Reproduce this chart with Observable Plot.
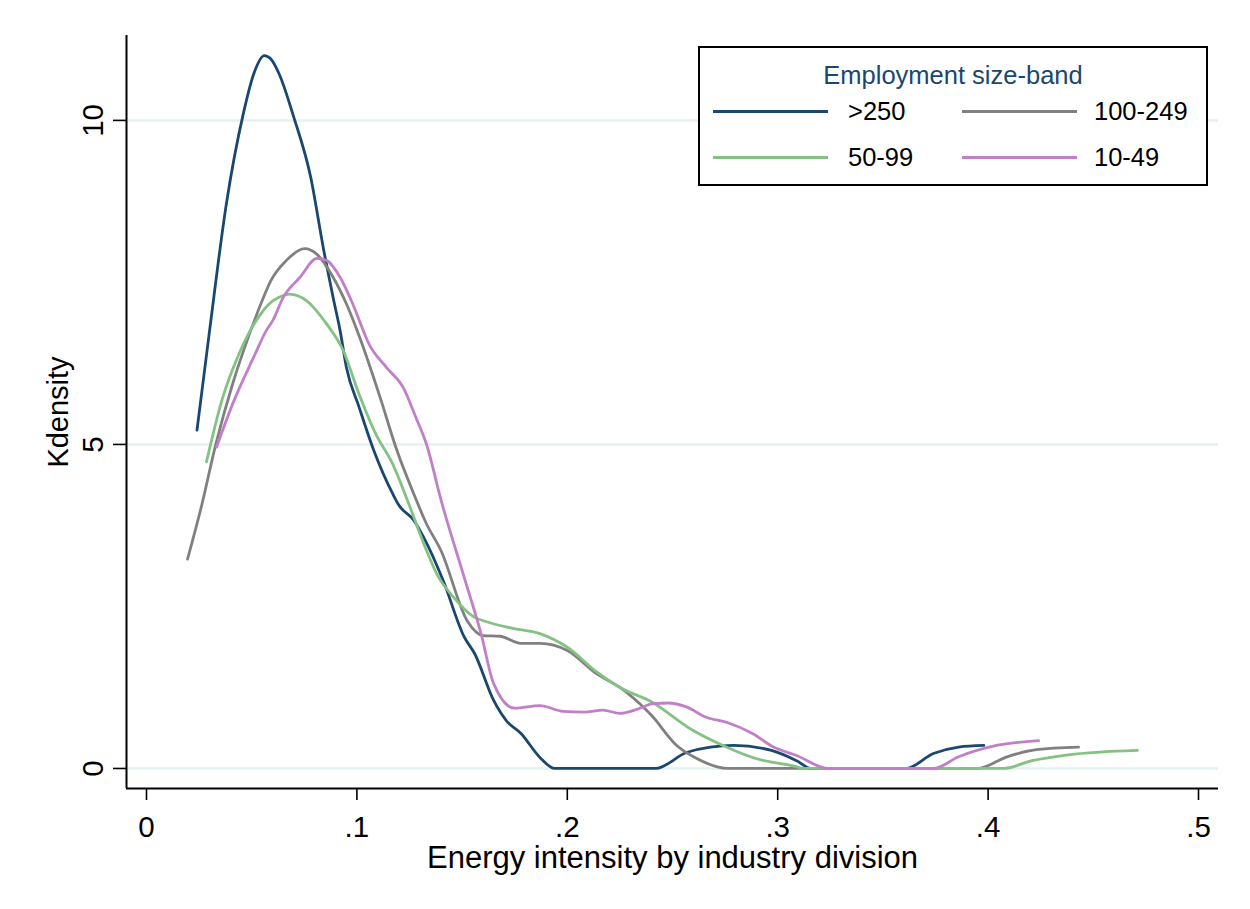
<!DOCTYPE html>
<html>
<head>
<meta charset="utf-8">
<script src="https://cdn.jsdelivr.net/npm/d3@7"></script>
<script src="https://cdn.jsdelivr.net/npm/@observablehq/plot@0.6"></script>
<style>
  html, body { margin: 0; padding: 0; background: #fff; }
  #wrap { position: relative; width: 1250px; height: 909px; font-family: "Liberation Sans", Arial, sans-serif; }
  #legend { position: absolute; left: 698px; top: 46px; width: 506px; height: 136px; border: 2px solid #000; background: #fff; box-sizing: content-box; }
  #legend .title { position: absolute; left: 0; right: 0; top: 13px; text-align: center; font-size: 25.5px; color: #1a476f; }
  #legend .item { position: absolute; font-size: 25.5px; color: #000; line-height: 26px; }
  #legend .sw { position: absolute; height: 3px; width: 115px; }
</style>
</head>
<body>
<div id="wrap"></div>
<script>
// ---- data ----
const bands = [">250", "100-249", "50-99", "10-49"];
const colors = ["#1a476f", "#808080", "#84c283", "#c27fc9"];

const x250 = [0.024,0.030,0.038,0.046,0.051,0.056,0.059,0.063,0.070,0.078,0.084,0.089,0.092,0.095,0.101,0.108,0.117,0.120,0.127,0.132,0.141,0.151,0.156,0.165,0.171,0.178,0.187,0.194,0.242,0.257,0.279,0.297,0.309,0.316,0.361,0.374,0.386,0.398];
const y250 = [5.22,6.76,8.72,10.10,10.72,11.00,10.95,10.72,10.05,9.13,8.04,7.22,6.76,6.19,5.58,4.91,4.24,4.06,3.83,3.55,2.90,2.03,1.77,1.05,0.74,0.54,0.17,0.00,0.00,0.25,0.355,0.28,0.12,0.00,0.00,0.23,0.33,0.355];

const x100 = [0.0195,0.026,0.033,0.041,0.049,0.055,0.059,0.0665,0.0752,0.0808,0.0887,0.095,0.101,0.111,0.119,0.127,0.133,0.140,0.1524,0.160,0.168,0.178,0.187,0.200,0.214,0.225,0.240,0.252,0.260,0.2767,0.395,0.409,0.423,0.443];
const y100 = [3.23,4.03,5.01,5.94,6.71,7.22,7.52,7.84,8.02,7.94,7.58,7.17,6.68,5.73,4.91,4.24,3.78,3.36,2.28,2.05,2.04,1.93,1.93,1.82,1.46,1.25,0.82,0.355,0.18,0.00,0.00,0.18,0.29,0.33];

const x50 = [0.0285,0.036,0.044,0.049,0.054,0.058,0.063,0.068,0.076,0.0856,0.0935,0.101,0.109,0.117,0.124,0.132,0.138,0.146,0.1556,0.162,0.173,0.187,0.200,0.214,0.225,0.240,0.2586,0.274,0.290,0.3087,0.312,0.407,0.421,0.438,0.471];
const y50 = [4.73,5.70,6.40,6.74,7.00,7.16,7.27,7.32,7.22,6.86,6.45,5.78,5.16,4.70,4.14,3.45,3.00,2.64,2.34,2.26,2.17,2.08,1.87,1.49,1.25,1.03,0.61,0.355,0.15,0.03,0.00,0.00,0.12,0.21,0.28];

const x10 = [0.0333,0.041,0.051,0.057,0.060,0.065,0.073,0.081,0.0856,0.092,0.098,0.103,0.105,0.114,0.122,0.128,0.133,0.140,0.151,0.159,0.165,0.175,0.187,0.198,0.208,0.217,0.225,0.232,0.241,0.248,0.2566,0.266,0.276,0.288,0.298,0.309,0.324,0.374,0.386,0.404,0.424];
const y10 = [4.96,5.63,6.35,6.76,6.91,7.27,7.58,7.87,7.84,7.58,7.17,6.76,6.60,6.19,5.88,5.42,5.01,4.14,2.95,2.08,1.31,0.93,0.97,0.88,0.87,0.90,0.85,0.90,1.00,1.01,0.95,0.79,0.71,0.54,0.33,0.20,0.00,0.00,0.18,0.355,0.43];

const xTicks = [0, 0.1, 0.2, 0.3, 0.4, 0.5];
const xTickLabels = ["0", ".1", ".2", ".3", ".4", ".5"];
const yTicks = [0, 5, 10];
const yTickLabels = ["0", "5", "10"];
const xTitle = "Energy intensity by industry division";
const yTitle = "Kdensity";
const legendTitle = "Employment size-band";

// ---- build table ----
const seriesX = [x250, x100, x50, x10];
const seriesY = [y250, y100, y50, y10];
const rows = [];
bands.forEach((b, i) => seriesX[i].forEach((xv, j) => rows.push({band: b, x: xv, y: seriesY[i][j]})));

const xDomain = [-0.0095, 0.5095];
const yDomain = [-0.309, 11.31];

const chart = Plot.plot({
  width: 1250,
  height: 909,
  marginLeft: 126,
  marginRight: 32,
  marginTop: 35,
  marginBottom: 121,
  style: {fontFamily: "'Liberation Sans', Arial, sans-serif", background: "#fff", color: "#000"},
  x: {domain: xDomain, axis: null},
  y: {domain: yDomain, axis: null},
  color: {domain: bands, range: colors},
  marks: [
    Plot.ruleY(yTicks, {stroke: "#e6eff1", strokeWidth: 2.5}),
    Plot.line(rows, {x: "x", y: "y", z: "band", stroke: "band", strokeWidth: 2.8, curve: "monotone-x"}),
    Plot.ruleX([xDomain[0]], {stroke: "#000", strokeWidth: 2}),
    Plot.ruleY([yDomain[0]], {stroke: "#000", strokeWidth: 2}),
    // tick marks
    Plot.ruleX(xTicks, {x: d => d, y1: yDomain[0], y2: yDomain[0], insetBottom: -12, stroke: "#000", strokeWidth: 1.6}),
    Plot.ruleY(yTicks, {y: d => d, x1: xDomain[0], x2: xDomain[0], insetLeft: -13, stroke: "#000", strokeWidth: 1.6}),
    // tick labels
    Plot.text(xTicks, {x: d => d, y: yDomain[0], text: (d, i) => xTickLabels[i], dy: 48, lineAnchor: "bottom", fontSize: 29.5, fill: "#000"}),
    Plot.text(yTicks, {x: xDomain[0], y: d => d, text: (d, i) => yTickLabels[i], dx: -24, rotate: -90, lineAnchor: "bottom", textAnchor: "middle", fontSize: 29.5, fill: "#000"}),
    // axis titles
    Plot.text([xTitle], {frameAnchor: "bottom", dy: 79, lineAnchor: "bottom", fontSize: 31, fill: "#000"}),
    Plot.text([yTitle], {frameAnchor: "left", dx: -59, rotate: -90, textAnchor: "middle", lineAnchor: "bottom", fontSize: 29, fill: "#000"})
  ]
});

const wrap = document.getElementById("wrap");
wrap.appendChild(chart);

// legend
const lg = document.createElement("div");
lg.id = "legend";
const t = document.createElement("div");
t.className = "title";
t.textContent = legendTitle;
lg.appendChild(t);
const pos = [[0, 0], [1, 0], [0, 1], [1, 1]];
bands.forEach((b, i) => {
  const [c, r] = pos[i];
  const sw = document.createElement("div");
  sw.className = "sw";
  sw.style.left = (13 + c * 249) + "px";
  sw.style.top = (62 + r * 46) + "px";
  sw.style.background = colors[i];
  lg.appendChild(sw);
  const it = document.createElement("div");
  it.className = "item";
  it.style.left = (148 + c * 246) + "px";
  it.style.top = (50 + r * 46) + "px";
  it.textContent = b;
  lg.appendChild(it);
});
wrap.appendChild(lg);
</script>
</body>
</html>
